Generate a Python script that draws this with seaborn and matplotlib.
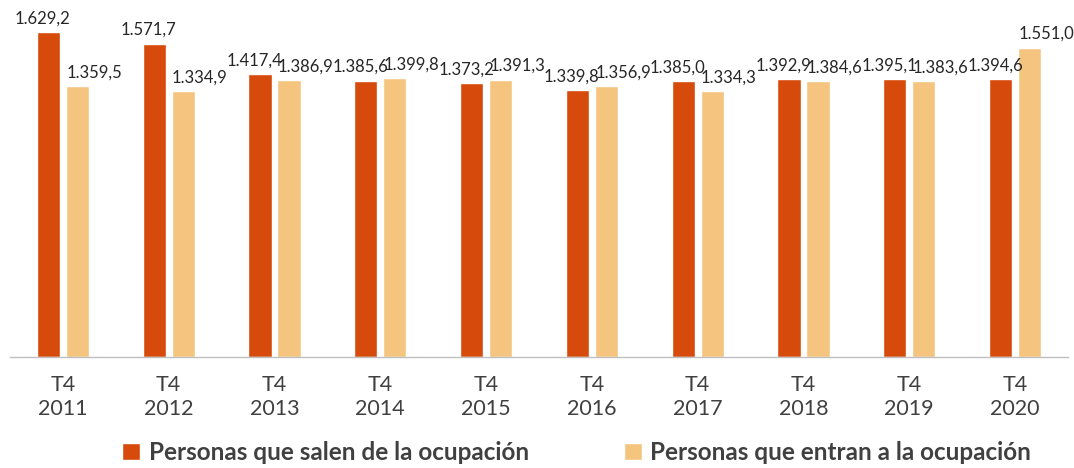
import pandas as pd
import numpy as np
import seaborn as sns
import matplotlib.pyplot as plt

years = ['2011', '2012', '2013', '2014', '2015', '2016', '2017', '2018', '2019', '2020']
tick_labels = ['T4\n' + y for y in years]
salen = [1629.2, 1571.7, 1417.4, 1385.6, 1373.2, 1339.8, 1385.0, 1392.9, 1395.1, 1394.6]
entran = [1359.5, 1334.9, 1386.9, 1399.8, 1391.3, 1356.9, 1334.3, 1384.6, 1383.6, 1551.0]
series = ['Personas que salen de la ocupación', 'Personas que entran a la ocupación']
colors = ['#D64A0B', '#F5C57F']


def es_fmt(v):
    # spanish style: 1.629,2
    s = '{:,.1f}'.format(v)
    return s.replace(',', 'X').replace('.', ',').replace('X', '.')


df = pd.DataFrame({
    'year': years * 2,
    'value': salen + entran,
    'serie': [series[0]] * len(years) + [series[1]] * len(years),
})

sns.set_style('white')
plt.rcParams['font.family'] = ['Lato', 'DejaVu Sans']
text_col = '#404040'

fig = plt.figure(figsize=(10.74, 4.68), dpi=100)
ax = fig.add_axes([10 / 1074, 111 / 468, 1058 / 1074, 357 / 468])

sns.barplot(data=df, x='year', y='value', hue='serie', palette=colors,
            width=0.55, gap=0.2, saturation=1, ax=ax, legend=True)

# excel-like label placement: dark labels nudged left, light ones right
shifts = [-4, 12]  # in points
for cont, dx in zip(ax.containers, shifts):
    for b in cont:
        h = b.get_height()
        ax.annotate(es_fmt(h), (b.get_x() + b.get_width() / 2, h),
                    xytext=(dx, 4), textcoords='offset points',
                    ha='center', va='bottom', fontsize=12, color='#262626',
                    annotation_clip=False)

ax.set_ylim(0, 1790)
ax.set_xlim(-0.5, len(years) - 0.5)
ax.set_yticks([])
ax.set_xticks(range(len(years)))
ax.set_xticklabels(tick_labels, fontsize=15.5, color=text_col, linespacing=1.25)
ax.tick_params(axis='x', length=0, pad=13)
ax.set_xlabel('')
ax.set_ylabel('')
for s in ['top', 'left', 'right']:
    ax.spines[s].set_visible(False)
ax.spines['bottom'].set_color('#BFBFBF')
ax.spines['bottom'].set_linewidth(1)

handles, lbls = ax.get_legend_handles_labels()
ax.get_legend().remove()
leg = fig.legend(handles, lbls, loc='lower center', bbox_to_anchor=(0.537, -0.038),
                 ncol=2, frameon=False, handlelength=0.75, handleheight=0.75,
                 handletextpad=0.35, columnspacing=3.9,
                 prop={'size': 17.5, 'weight': 'bold'})
for t in leg.get_texts():
    t.set_color(text_col)

fig.savefig('out.png', dpi=100)
